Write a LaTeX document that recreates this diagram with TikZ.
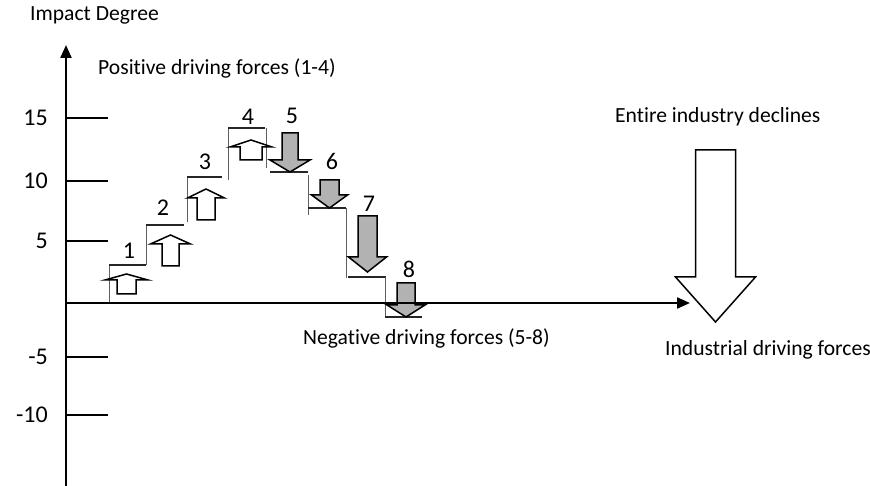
\documentclass[tikz,border=0pt]{standalone}
\usepackage{fontspec}
\setmainfont{Carlito}[Ligatures={NoCommon}]
\usetikzlibrary{arrows.meta}

\definecolor{downgray}{RGB}{178,178,178}
\definecolor{stepgray}{RGB}{95,95,95}

% block arrow: style, centre x, tail y, head base y, tip y, shaft half width, head half width
\newcommand{\force}[7]{%
    \draw[#1] ({#2-#6},#3) -- ({#2-#6},#4) -- ({#2-#7},#4) -- (#2,#5)
        -- ({#2+#7},#4) -- ({#2+#6},#4) -- ({#2+#6},#3) -- cycle;}

\begin{document}
\begin{tikzpicture}[
                x = 10pt,
                y = 10pt,
                axis/.style = {
                    line width = 2.2pt,
                    -{Triangle[length=13pt, width=11pt]}
                },
                tick/.style = {line width = 1.3pt},
                ticklabel/.style = {
                    anchor = east,
                    inner sep = 0pt,
                    font = \fontsize{24}{24}\selectfont
                },
                steplabel/.style = {
                    inner sep = 0pt,
                    font = \fontsize{24}{24}\selectfont
                },
                caption/.style = {
                    anchor = base west,
                    inner sep = 0pt,
                    font = \fontsize{21.6}{22}\selectfont
                },
                riser/.style = {stepgray, line width = 1pt},
                tread/.style = {black!85, line width = 1.5pt},
                upforce/.style = {draw, fill = white, line width = 1.5pt},
                downforce/.style = {draw, fill = downgray, line width = 1.5pt}
            ]
            \useasboundingbox (-6.6,-18.3) rectangle (80.4,30.3);
            % 
            \coordinate (O) at (0,0);
            \coordinate (ytop) at (0,25.8);
            \coordinate (ybot) at (0,-18.3);
            \coordinate (xend) at (62.4,0);
            % 
            % rising staircase
            \draw[riser] (4.3,0) -- (4.3,3.8);
            \draw[tread] (4.3,3.8) -- (8.0,3.8);
            \draw[riser] (8.0,3.8) -- (8.0,7.8);
            \draw[tread] (8.0,7.8) -- (11.8,7.8);
            \draw[riser] (12.1,8.1) -- (12.1,12.6);
            \draw[tread] (12.1,12.6) -- (15.6,12.6);
            \draw[riser] (16.2,12.3) -- (16.2,17.5);
            \draw[tread] (16.2,17.5) -- (19.9,17.5);
            % 
            % falling staircase
            \draw[riser] (20.0,17.5) -- (20.0,13.5);
            \draw[tread] (20.4,13.1) -- (24.2,13.1);
            \draw[riser] (24.2,12.8) -- (24.2,8.8);
            \draw[tread] (24.2,9.5) -- (28.0,9.5);
            \draw[riser] (28.0,9.5) -- (28.0,2.5);
            \draw[tread] (28.2,2.6) -- (32.0,2.6);
            \draw[riser] (31.9,2.6) -- (31.9,-1.5);
            \draw[tread] (31.9,-1.4) -- (35.6,-1.4);
            % 
            % positive forces
            \force{upforce}{6.05}{0.9}{2.3}{2.9}{0.95}{2.15}
            \force{upforce}{10.45}{3.7}{5.9}{6.8}{0.85}{2.0}
            \force{upforce}{14.0}{8.3}{10.5}{11.4}{0.9}{1.85}
            \force{upforce}{18.5}{14.3}{15.6}{16.3}{1.1}{2.1}
            % 
            % negative forces
            \force{downforce}{22.4}{17.0}{14.3}{13.1}{0.8}{2.0}
            \force{downforce}{26.35}{12.3}{10.8}{9.5}{0.95}{1.8}
            \force{downforce}{30.15}{8.7}{4.6}{3.1}{0.95}{1.9}
            \force{downforce}{34.0}{2.0}{-0.2}{-1.4}{0.9}{1.9}
            % 
            % decline of the whole industry
            \force{upforce}{64.95}{15.3}{2.6}{-1.9}{2.0}{4.0}
            % 
            % axes
            \draw[axis] (ybot) -- (ytop);
            \draw[axis] (O) -- (xend);
            % 
            \draw[tick] (0,18.5) -- (4.2,18.5);
            \draw[tick] (0,12.2) -- (4.2,12.2);
            \draw[tick] (0,6.2) -- (4.2,6.2);
            \draw[tick] (0,-5.4) -- (4.2,-5.4);
            \draw[tick] (0,-11.2) -- (4.2,-11.2);
            % 
            \node[ticklabel] (t15) at (-1.8,18.5) {15};
            \node[ticklabel] (t10) at (-1.8,12.2) {10};
            \node[ticklabel] (t5) at (-1.8,6.2) {5};
            \node[ticklabel] (tm5) at (-1.8,-5.4) {-5};
            \node[ticklabel] (tm10) at (-1.8,-11.2) {-10};
            % 
            \node[steplabel] (s1) at (6.3,5.25) {1};
            \node[steplabel] (s2) at (9.7,9.5) {2};
            \node[steplabel] (s3) at (13.9,14.1) {3};
            \node[steplabel] (s4) at (18.2,18.6) {4};
            \node[steplabel] (s5) at (22.6,18.75) {5};
            \node[steplabel] (s6) at (26.6,14.15) {6};
            \node[steplabel] (s7) at (30.3,9.95) {7};
            \node[steplabel] (s8) at (34.3,3.4) {8};
            % 
            \node[caption] (impact) at (-3.6,28.2) {Impact Degree};
            \node[caption] (positive) at (3.2,22.8) {Positive driving forces (1-4)};
            \node[caption] (negative) at (23.7,-4.2) {Negative driving forces (5-8)};
            \node[caption] (declines) at (54.9,18.0) {Entire industry declines};
            \node[caption] (industrial) at (59.9,-5.3) {Industrial driving forces};
            % 
        \end{tikzpicture}
\end{document}
